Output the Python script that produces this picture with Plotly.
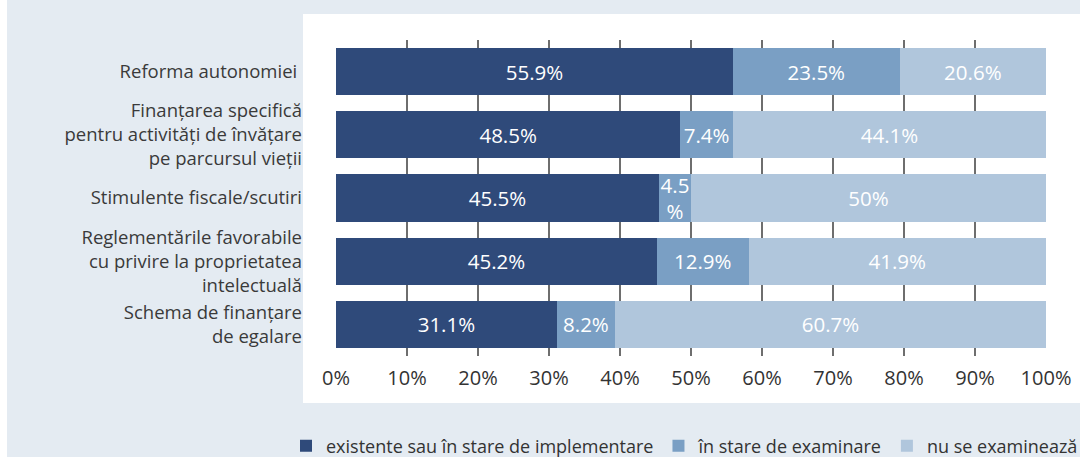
import plotly.graph_objects as go

categories = [
    "Reforma autonomiei ",
    "Finanțarea specifică<br>pentru activități de învățare<br>pe parcursul vieții",
    "Stimulente fiscale/scutiri",
    "Reglementările favorabile<br>cu privire la proprietatea<br>intelectuală",
    "Schema de finanțare<br>de egalare",
]
series_names = [
    "existente sau în stare de implementare",
    "în stare de examinare",
    "nu se examinează",
]
existing = [55.9, 48.5, 45.5, 45.2, 31.1]
examining = [23.5, 7.4, 4.5, 12.9, 8.2]
not_examined = [20.6, 44.1, 50.0, 41.9, 60.7]
existing_labels = ["55.9%", "48.5%", "45.5%", "45.2%", "31.1%"]
examining_labels = ["23.5%", "7.4%", "4.5<br>%", "12.9%", "8.2%"]
not_examined_labels = ["20.6%", "44.1%", "50%", "41.9%", "60.7%"]
tick_values = [0, 10, 20, 30, 40, 50, 60, 70, 80, 90, 100]
tick_labels = ["0%", "10%", "20%", "30%", "40%", "50%", "60%", "70%", "80%", "90%", "100%"]

colors = ["#2f4a7a", "#7a9fc4", "#b0c6dc"]
FONT = "Open Sans, Noto Sans, DejaVu Sans, sans-serif"

W, H = 1080, 457
L, R, T, B = 336, 34, 40, 101
pw, ph = W - L - R, H - T - B

def px_x(x):
    return (x - L) / pw

def px_y(y):
    return (H - B - y) / ph

fig = go.Figure()
for name, vals, labels, col in zip(series_names,
                                   [existing, examining, not_examined],
                                   [existing_labels, examining_labels, not_examined_labels],
                                   colors):
    fig.add_trace(go.Bar(
        y=categories, x=vals, name=name, orientation="h",
        marker=dict(color=col, line=dict(width=0)),
        text=labels, textposition="inside", insidetextanchor="middle",
        constraintext="none",
        textfont=dict(family=FONT, size=20.5, color="white"),
        hoverinfo="skip",
    ))

fig.update_layout(
    width=W, height=H,
    margin=dict(l=L, r=R, t=T, b=B, autoexpand=False),
    barmode="stack", bargap=0.255,
    paper_bgcolor="#e4ebf2", plot_bgcolor="white",
    font=dict(family=FONT, color="#333333"),
    showlegend=True,
    legend=dict(
        orientation="h", x=px_x(286), xanchor="left", y=px_y(446), yanchor="middle",
        font=dict(family=FONT, size=18, color="#333333"),
        bgcolor="rgba(0,0,0,0)", traceorder="normal", itemclick=False,
        borderwidth=0,
    ),
    shapes=[
        dict(type="rect", xref="paper", yref="paper", layer="below",
             x0=px_x(303), x1=px_x(1080), y0=px_y(403), y1=px_y(14),
             fillcolor="white", line=dict(width=0)),
        dict(type="rect", xref="paper", yref="paper", layer="below",
             x0=px_x(0), x1=px_x(7), y0=px_y(457), y1=px_y(0),
             fillcolor="white", line=dict(width=0)),
    ],
)
fig.update_xaxes(
    range=[0, 100], tickvals=tick_values, ticktext=tick_labels,
    showgrid=True, gridcolor="#6e6e6e", gridwidth=1.5, zeroline=False,
    showline=False, ticks="", ticklabelstandoff=8,
    tickfont=dict(family=FONT, size=20, color="#333333"), fixedrange=True,
)
fig.update_yaxes(
    categoryorder="array", categoryarray=categories, autorange="reversed",
    showgrid=False, zeroline=False, showline=False, ticks="",
    ticklabelstandoff=33,
    tickfont=dict(family=FONT, size=18.5, color="#3a3a3a"), fixedrange=True,
)

fig.write_html(
    "out.html",
    config={"displayModeBar": False},
    post_script="document.body.style.margin='0';document.body.style.overflow='hidden';",
)
